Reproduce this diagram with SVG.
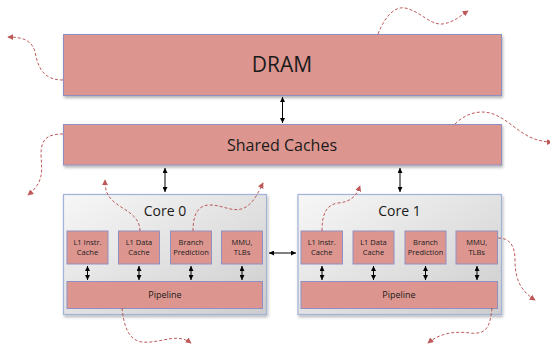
<svg xmlns="http://www.w3.org/2000/svg" width="550" height="345" viewBox="0 0 550 345">
  <style>
    .block { fill: #dd968f; stroke: #8f8fc2; stroke-width: 1; }
    .core { fill: url(#coreFill); stroke: #a2b2d8; stroke-width: 1.2; }
    .label { font-family: "Open Sans", "DejaVu Sans", sans-serif; fill: #1a1a1a; text-anchor: middle; }
    .big { font-size: 21px; }
    .mid { font-size: 16px; }
    .coreTitle { font-size: 14px; }
    .small { font-size: 7.5px; }
    .pipe { font-size: 9px; }
    .bus { stroke: #000; stroke-width: 1; fill: none; marker-start: url(#tipStart); marker-end: url(#tipEnd); }
    .flow { stroke: #b84848; stroke-width: 1; stroke-dasharray: 3 2; fill: none; marker-end: url(#redTip); opacity: 0.9; }
  </style>
  <defs>
    <linearGradient id="coreFill" x1="0" y1="0" x2="1" y2="1">
      <stop offset="0" stop-color="#f7f7f7"/>
      <stop offset="1" stop-color="#cdcdcd"/>
    </linearGradient>
    <filter id="shadow" x="-5%" y="-10%" width="110%" height="130%">
      <feDropShadow dx="1" dy="2" stdDeviation="1.5" flood-color="#000" flood-opacity="0.3"/>
    </filter>
    <marker id="tipEnd" viewBox="0 0 8 8" refX="8" refY="4" markerWidth="5" markerHeight="5" orient="auto" markerUnits="userSpaceOnUse">
      <path d="M0,0 L8,4 L0,8 Z" fill="#000"/>
    </marker>
    <marker id="tipStart" viewBox="0 0 8 8" refX="0" refY="4" markerWidth="5" markerHeight="5" orient="auto" markerUnits="userSpaceOnUse">
      <path d="M8,0 L0,4 L8,8 Z" fill="#000"/>
    </marker>
    <marker id="redTip" viewBox="0 0 8 8" refX="7" refY="4" markerWidth="6" markerHeight="6" orient="auto" markerUnits="userSpaceOnUse">
      <path d="M0,0 L8,4 L0,8 Z" fill="#b84848"/>
    </marker>
  </defs>

  <!-- memory hierarchy blocks -->
  <g id="dram">
    <rect class="block" x="63.5" y="34.5" width="438" height="61" filter="url(#shadow)"/>
    <text class="label big" x="282" y="72">DRAM</text>
  </g>
  <g id="shared-caches">
    <rect class="block" x="63.5" y="124.5" width="438" height="40.5" filter="url(#shadow)"/>
    <text class="label mid" x="282" y="150.5">Shared Caches</text>
  </g>

  <!-- core 0 -->
  <g id="core0">
    <rect class="core" x="63.5" y="194.5" width="203" height="120" filter="url(#shadow)"/>
    <text class="label coreTitle" x="165" y="216">Core 0</text>
  </g>
  <g id="core0-l1i">
    <rect class="block" x="67" y="231" width="41" height="33"/>
    <text class="label small" x="87.5" y="245">L1 Instr.</text>
    <text class="label small" x="87.5" y="255">Cache</text>
  </g>
  <g id="core0-l1d">
    <rect class="block" x="118.5" y="231" width="41" height="33"/>
    <text class="label small" x="139" y="245">L1 Data</text>
    <text class="label small" x="139" y="255">Cache</text>
  </g>
  <g id="core0-bp">
    <rect class="block" x="170.5" y="231" width="41" height="33"/>
    <text class="label small" x="191" y="245">Branch</text>
    <text class="label small" x="191" y="255">Prediction</text>
  </g>
  <g id="core0-mmu">
    <rect class="block" x="221.5" y="231" width="41" height="33"/>
    <text class="label small" x="242" y="245">MMU,</text>
    <text class="label small" x="242" y="255">TLBs</text>
  </g>
  <g id="core0-pipeline">
    <rect class="block" x="67" y="281.5" width="195.5" height="27"/>
    <text class="label pipe" x="165" y="298">Pipeline</text>
  </g>

  <!-- core 1 -->
  <g id="core1">
    <rect class="core" x="298" y="194.5" width="203.5" height="120" filter="url(#shadow)"/>
    <text class="label coreTitle" x="399.5" y="216">Core 1</text>
  </g>
  <g id="core1-l1i">
    <rect class="block" x="301" y="231" width="41.5" height="33"/>
    <text class="label small" x="321.7" y="245">L1 Instr.</text>
    <text class="label small" x="321.7" y="255">Cache</text>
  </g>
  <g id="core1-l1d">
    <rect class="block" x="353" y="231" width="41" height="33"/>
    <text class="label small" x="373.5" y="245">L1 Data</text>
    <text class="label small" x="373.5" y="255">Cache</text>
  </g>
  <g id="core1-bp">
    <rect class="block" x="405" y="231" width="41" height="33"/>
    <text class="label small" x="425.5" y="245">Branch</text>
    <text class="label small" x="425.5" y="255">Prediction</text>
  </g>
  <g id="core1-mmu">
    <rect class="block" x="456" y="231" width="41.5" height="33"/>
    <text class="label small" x="476.7" y="245">MMU,</text>
    <text class="label small" x="476.7" y="255">TLBs</text>
  </g>
  <g id="core1-pipeline">
    <rect class="block" x="301" y="281.5" width="196.5" height="27"/>
    <text class="label pipe" x="399" y="298">Pipeline</text>
  </g>

  <!-- connectors -->
  <g id="connectors">
    <line class="bus" x1="282.5" y1="97" x2="282.5" y2="123"/>
    <line class="bus" x1="165" y1="168" x2="165" y2="192"/>
    <line class="bus" x1="400" y1="168" x2="400" y2="192"/>
    <line class="bus" x1="269" y1="253" x2="296" y2="253"/>

    <line class="bus" x1="87.5" y1="266" x2="87.5" y2="280"/>
    <line class="bus" x1="139" y1="266" x2="139" y2="280"/>
    <line class="bus" x1="191" y1="266" x2="191" y2="280"/>
    <line class="bus" x1="242" y1="266" x2="242" y2="280"/>
    <line class="bus" x1="322" y1="266" x2="322" y2="280"/>
    <line class="bus" x1="373.5" y1="266" x2="373.5" y2="280"/>
    <line class="bus" x1="425.5" y1="266" x2="425.5" y2="280"/>
    <line class="bus" x1="477" y1="266" x2="477" y2="280"/>

    <!-- leaking data flows -->
    <path class="flow" d="M63,80 C42,80 38,66 35,52 C32,40 22,37 8,37"/>
    <path class="flow" d="M378,34 C385,16 395,6 405,8 C420,11 430,25 442,24 C453,23 460,16 468,11"/>
    <path class="flow" d="M455,124 C465,114 478,110 490,113 C512,119 522,142 552,142"/>
    <path class="flow" d="M63,134 C46,134 41,140 41,155 C42,172 44,182 28,195"/>
    <path class="flow" d="M140,231 C140,214 122,210 112,200 C106,194 105,188 105,180"/>
    <path class="flow" d="M193,231 C193,214 198,205 210,205 C224,205 234,214 246,207 C255,201 259,191 263,183"/>
    <path class="flow" d="M322,231 C322,214 326,205 338,203 C350,202 356,197 360,186"/>
    <path class="flow" d="M122,308 C124,326 128,340 142,342 C160,344 176,332 191,343"/>
    <path class="flow" d="M492,308 C490,325 488,335 470,333 C455,331 440,333 428,343"/>
    <path class="flow" d="M498,238 C510,238 515,246 515,260 C515,280 521,291 535,300"/>
  </g>
</svg>
